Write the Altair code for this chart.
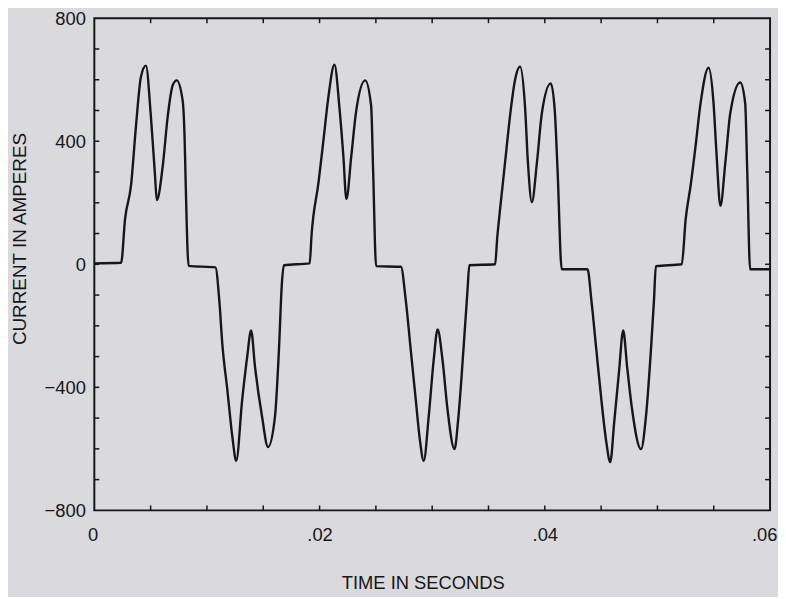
import altair as alt
import pandas as pd

# Waveform (time in seconds, current in amperes)
time_s = [
    0.0, 0.00238, 0.00273, 0.00326, 0.0037, 0.00414, 0.00458, 0.00502, 0.00537, 0.00555,
    0.00608, 0.00652, 0.00696, 0.00731, 0.00784, 0.00802, 0.00811, 0.00837, 0.01075,
    0.0111, 0.01136, 0.01181, 0.01225, 0.0126, 0.01313, 0.01357, 0.01392, 0.01427, 0.01489,
    0.01542, 0.01604, 0.01639, 0.01665, 0.01683, 0.01912,
    0.01929, 0.01991, 0.02035, 0.02079, 0.02132, 0.02176, 0.02211, 0.02238, 0.02282,
    0.02326, 0.02405, 0.02458, 0.02476, 0.02502, 0.02722,
    0.02766, 0.0281, 0.02854, 0.0289, 0.02925, 0.02969, 0.03013, 0.03048, 0.03092,
    0.03136, 0.03198, 0.03233, 0.03277, 0.03313, 0.0333, 0.03559,
    0.03577, 0.03603, 0.03647, 0.03691, 0.03735, 0.0378, 0.03824, 0.0385, 0.03885,
    0.0393, 0.03974, 0.04053, 0.04088, 0.04114, 0.0415, 0.04379,
    0.04414, 0.04458, 0.04502, 0.04546, 0.04581, 0.04616, 0.0466, 0.04696, 0.04731,
    0.04775, 0.04854, 0.04898, 0.04942, 0.04969, 0.04986, 0.05216,
    0.05251, 0.05295, 0.05339, 0.05383, 0.05454, 0.05498, 0.05524, 0.05559, 0.05603,
    0.05647, 0.05735, 0.05779, 0.05797, 0.05823, 0.06,
]
current_a = [
    3, 5, 148, 257, 450, 610, 646, 482, 299, 209,
    321, 482, 582, 598, 533, 405, 267, -5, -10,
    -119, -257, -408, -559, -639, -440, -302, -215, -334, -495,
    -594, -495, -280, -64, -3, 3,
    96, 267, 405, 546, 649, 511, 353, 212, 353,
    501, 598, 514, 299, -6, -8,
    -119, -280, -440, -569, -639, -495, -312, -212, -312,
    -472, -601, -495, -280, -87, -3, 0,
    84, 180, 331, 482, 598, 643, 514, 331, 202,
    331, 492, 588, 501, 299, -16, -16,
    -119, -280, -440, -578, -643, -514, -344, -215, -334,
    -472, -601, -495, -280, -119, -6, 0,
    148, 257, 386, 524, 639, 524, 363, 190, 331,
    492, 591, 524, 308, -16, -16,
]

x_label_values = [0, 0.02, 0.04, 0.06]
y_label_values = [-800, -400, 0, 400, 800]
x_minor_ticks = [0.005, 0.01, 0.015, 0.02, 0.025, 0.03, 0.035, 0.04, 0.045, 0.05, 0.055]
y_minor_ticks = [-700, -600, -500, -400, -300, -200, -100, 0, 100, 200, 300, 400, 500, 600, 700]

W, H = 681, 496
INK = "#161616"
BG = "#dad9de"
FONT = "Liberation Sans"

df = pd.DataFrame({"t": time_s, "i": current_a})
xscale = alt.Scale(domain=[0, 0.06], nice=False, zero=False)
yscale = alt.Scale(domain=[-800, 800], nice=False, zero=False)

x_axis = alt.Axis(
    values=x_label_values,
    labelExpr="datum.value == 0 ? '0' : replace(format(datum.value, '.2f'), '0.', '.')",
    title="TIME IN SECONDS",
    titleX=331,
    titleY=79,
    titleAlign="center",
    titleBaseline="alphabetic",
    titleFontSize=18.5,
    labelBaseline="alphabetic",
    labelPadding=30,
    labelFlush=True,
    labelFlushOffset=7,
    ticks=False,
    tickSize=0,
    domain=False,
    grid=False,
)
y_axis = alt.Axis(
    values=y_label_values,
    format="d",
    title="CURRENT IN AMPERES",
    titleX=-69,
    titleY=222,
    titleAngle=270,
    titleAlign="center",
    titleBaseline="alphabetic",
    titleFontSize=19,
    labelPadding=9,
    labelBaseline="middle",
    ticks=False,
    tickSize=0,
    domain=False,
    grid=False,
)

line = alt.Chart(df).mark_line(
    color=INK, strokeWidth=2.4, interpolate="monotone", clip=True
).encode(
    x=alt.X("t:Q", scale=xscale, axis=x_axis),
    y=alt.Y("i:Q", scale=yscale, axis=y_axis),
)

xt = pd.DataFrame({"t": x_minor_ticks})
yt = pd.DataFrame({"i": y_minor_ticks})

bottom_ticks = alt.Chart(xt).mark_rule(color=INK, strokeWidth=1.5).encode(
    x=alt.X("t:Q", scale=xscale, axis=x_axis), y=alt.value(H), y2=alt.value(H - 5)
)
top_ticks = alt.Chart(xt).mark_rule(color=INK, strokeWidth=1.5).encode(
    x=alt.X("t:Q", scale=xscale, axis=x_axis), y=alt.value(0), y2=alt.value(5)
)
left_ticks = alt.Chart(yt).mark_rule(color=INK, strokeWidth=1.5).encode(
    y=alt.Y("i:Q", scale=yscale, axis=y_axis), x=alt.value(0), x2=alt.value(5)
)
right_ticks = alt.Chart(yt).mark_rule(color=INK, strokeWidth=1.5).encode(
    y=alt.Y("i:Q", scale=yscale, axis=y_axis), x=alt.value(W), x2=alt.value(W - 5)
)

chart = (
    alt.layer(line, bottom_ticks, top_ticks, left_ticks, right_ticks)
    .properties(
        width=W,
        height=H,
        autosize=alt.AutoSizeParams(type="none"),
        padding={"left": 87, "top": 8, "right": 8, "bottom": 85},
        background=BG,
    )
    .configure_view(stroke=INK, strokeWidth=2)
    .configure_axis(
        labelFont=FONT,
        labelFontSize=18.5,
        labelColor=INK,
        titleFont=FONT,
        titleColor=INK,
        titleFontWeight="normal",
    )
)

chart.save("out.html", embed_options={"renderer": "svg", "actions": False})
